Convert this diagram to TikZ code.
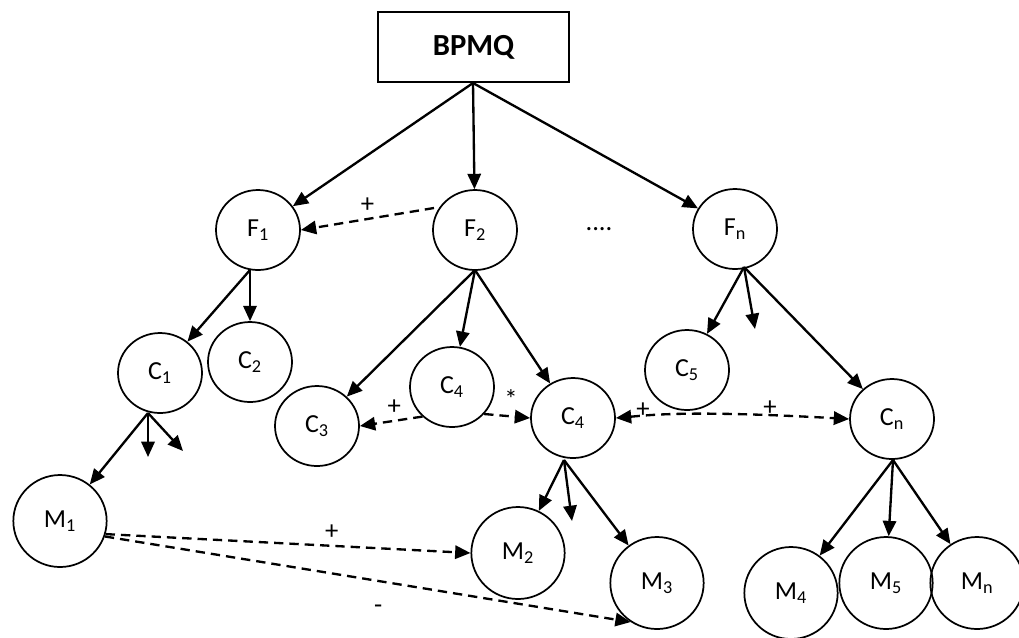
\documentclass[tikz,border=0pt]{standalone}
\usepackage{fontspec}
\setmainfont{Carlito}
\usetikzlibrary{arrows.meta,shapes.geometric}
\begin{document}
\begin{tikzpicture}[x=0.75pt,y=-0.75pt,
  nd/.style={draw,line width=1.3pt,ellipse,minimum width=63pt,minimum height=60pt,inner sep=0pt,font=\fontsize{19.5}{22}\selectfont},
  mnd/.style={nd,minimum width=70pt,minimum height=69pt},
  arr/.style={line width=1.75pt,-{Triangle[length=11.5pt,width=10pt]}},
  darr/.style={arr,dashed,dash pattern=on 7pt off 4.5pt},
  lbl/.style={font=\fontsize{20}{22}\selectfont,inner sep=0pt}]
\useasboundingbox (0,0) rectangle (1019,637);
\node[draw,line width=1.3pt,minimum width=143pt,minimum height=53pt,font=\bfseries\fontsize{23}{26}\selectfont] (B) at (473.5,47) {BPMQ};
\node[nd] (F1) at (258,230) {F\textsubscript{1}};
\node[nd] (F2) at (475,230) {F\textsubscript{2}};
\node[nd] (Fn) at (735,229) {F\textsubscript{n}};
\node[lbl] (dots) at (599,229) {....};
\node[nd] (C1) at (160,373) {C\textsubscript{1}};
\node[nd] (C2) at (250,362) {C\textsubscript{2}};
\node[nd] (C3) at (317,426) {C\textsubscript{3}};
\node[nd] (C4a) at (452,387) {C\textsubscript{4}};
\node[nd] (C4b) at (573,418) {C\textsubscript{4}};
\node[nd] (C5) at (687,370) {C\textsubscript{5}};
\node[nd] (Cn) at (892,419) {C\textsubscript{n}};
\node[mnd] (M1) at (60,521) {M\textsubscript{1}};
\node[mnd] (M2) at (518,553) {M\textsubscript{2}};
\node[mnd] (M3) at (657,583) {M\textsubscript{3}};
\node[mnd] (M4) at (791,593) {M\textsubscript{4}};
\node[mnd] (M5) at (886,583) {M\textsubscript{5}};
\node[mnd] (Mn) at (977,583) {M\textsubscript{n}};
% free ends
\coordinate (bB) at (473,83);
\coordinate (bF1) at (250,270);
\coordinate (bF2) at (475,270);
\coordinate (bFn) at (744,267);
\coordinate (bC1) at (148,413);
\coordinate (bC4) at (564,460);
\coordinate (bCn) at (893,460);
\coordinate (x1) at (148,457);
\coordinate (x2) at (183,451);
\coordinate (x3) at (755,329);
\coordinate (x4) at (572,521);
\coordinate (f2w) at (434,208);
% solid arrows
\draw[arr] (bB) -- (F1);
\draw[arr] (bB) -- (F2);
\draw[arr] (bB) -- (Fn);
\draw[arr] (bF1) -- (C1);
\draw[arr] (bF1) -- (C2);
\draw[arr] (bF2) -- (C3);
\draw[arr] (bF2) -- (C4a);
\draw[arr] (bF2) -- (C4b);
\draw[arr] (bFn) -- (C5);
\draw[arr] (bFn) -- (x3);
\draw[arr] (bFn) -- (Cn);
\draw[arr] (bC1) -- (M1);
\draw[arr] (bC1) -- (x1);
\draw[arr] (bC1) -- (x2);
\draw[arr] (bC4) -- (M2);
\draw[arr] (bC4) -- (x4);
\draw[arr] (bC4) -- (M3);
\draw[arr] (bCn) -- (M4);
\draw[arr] (bCn) -- (M5);
\draw[arr] (bCn) -- (Mn);
% dashed arrows
\draw[darr] (f2w) -- (F1.east) node[lbl,pos=0.5,above=4pt] {+};
\draw[darr] (C4a.225) -- (C3.east) node[lbl,pos=0.45,above=4pt] {+};
\draw[darr] (C4a.-40) -- (C4b.west) node[lbl,pos=0.3,above right=4pt] {*};
\draw[darr,{Triangle[length=11.5pt,width=10pt]}-{Triangle[length=11.5pt,width=10pt]}] (C4b.east) .. controls (650,415) and (690,410) .. (Cn.west);
\node[lbl] (p1) at (643,410) {+};
\node[lbl] (p2) at (770,408) {+};
\draw[darr] (M1.-16) -- (M2.west) node[lbl,pos=0.62,above=4pt] {+};
\draw[darr] (M1.-19) -- (M3.-124) node[lbl,pos=0.52,below=17pt] {-};
\end{tikzpicture}
\end{document}
